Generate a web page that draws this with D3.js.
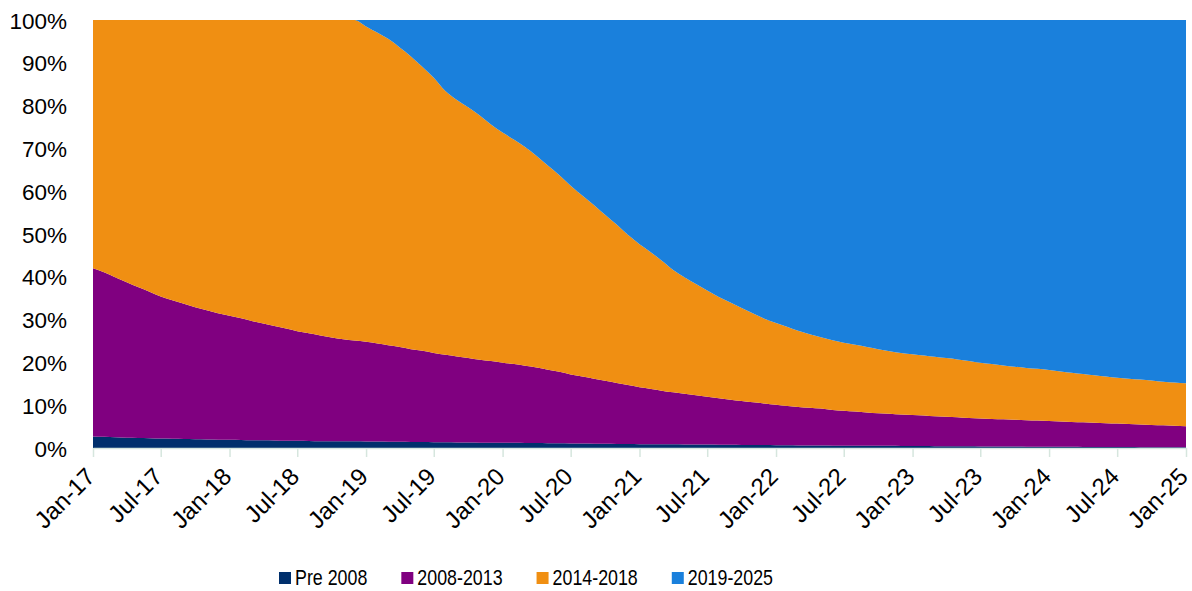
<!DOCTYPE html>
<html>
<head>
<meta charset="utf-8">
<script src="https://cdn.jsdelivr.net/npm/d3@7"></script>
<style>
  html, body { margin: 0; padding: 0; background: #ffffff; }
  svg { display: block; }
  .axis text, .legend text { font-family: "Liberation Sans", Arial, sans-serif; fill: #000; }
</style>
</head>
<body>
<svg id="chart" width="1192" height="591"></svg>
<script>
// Monthly share of the total by vintage, Jan-17 to Jan-25 (percent).
const seriesNames = ["Pre 2008", "2008-2013", "2014-2018", "2019-2025"];

const pre2008 = [
  2.7, 2.6, 2.5, 2.4, 2.35, 2.3, 2.2, 2.15, 2.1, 2.05, 2.0, 1.95, 1.9,
  1.85, 1.8, 1.8, 1.75, 1.7, 1.7, 1.65, 1.6, 1.6, 1.55, 1.55, 1.5,
  1.5, 1.45, 1.45, 1.4, 1.4, 1.35, 1.35, 1.3, 1.3, 1.25, 1.25, 1.2,
  1.2, 1.15, 1.15, 1.1, 1.1, 1.05, 1.05, 1.0, 1.0, 0.95, 0.95, 0.9,
  0.9, 0.85, 0.85, 0.8, 0.8, 0.8, 0.75, 0.75, 0.7, 0.7, 0.7, 0.65,
  0.65, 0.6, 0.6, 0.6, 0.55, 0.55, 0.55, 0.5, 0.5, 0.5, 0.45, 0.45,
  0.45, 0.4, 0.4, 0.4, 0.4, 0.35, 0.35, 0.35, 0.35, 0.3, 0.3, 0.3,
  0.3, 0.3, 0.25, 0.25, 0.25, 0.25, 0.25, 0.2, 0.2, 0.2, 0.2, 0.2
];

const y2008to2013 = [
  39.3, 38.4, 37.4, 36.3, 35.25, 34.2, 33.2, 32.35, 31.6, 30.85, 30.2, 29.55, 29.0,
  28.45, 27.9, 27.3, 26.75, 26.2, 25.6, 25.15, 24.7, 24.2, 23.85, 23.55, 23.3,
  22.9, 22.55, 22.15, 21.7, 21.3, 20.85, 20.45, 20.1, 19.7, 19.35, 19.05, 18.7,
  18.4, 18.05, 17.65, 17.2, 16.7, 16.15, 15.65, 15.2, 14.7, 14.25, 13.75, 13.3,
  12.9, 12.55, 12.15, 11.9, 11.5, 11.2, 10.85, 10.55, 10.3, 10.0, 9.7, 9.45,
  9.15, 9.0, 8.8, 8.6, 8.35, 8.15, 7.95, 7.8, 7.6, 7.5, 7.35, 7.25,
  7.15, 7.0, 6.9, 6.8, 6.6, 6.55, 6.45, 6.35, 6.25, 6.2, 6.1, 6.0,
  5.9, 5.8, 5.75, 5.65, 5.55, 5.45, 5.35, 5.3, 5.2, 5.1, 5.0, 4.9
];

const y2014to2018 = [
  58.0, 59.0, 60.1, 61.3, 62.4, 63.5, 64.6, 65.5, 66.3, 67.1, 67.8, 68.5, 69.1,
  69.7, 70.3, 70.9, 71.5, 72.1, 72.7, 73.2, 73.7, 74.2, 74.6, 74.9, 73.7,
  72.6, 71.6, 70.0, 68.4, 66.3, 64.3, 61.6, 59.9, 58.6, 57.1, 55.3, 53.8,
  52.4, 51.1, 49.4, 47.7, 45.9, 44.1, 42.3, 40.6, 38.8, 37.0, 35.1, 33.4,
  31.9, 30.4, 28.6, 27.2, 26.0, 24.8, 23.7, 22.7, 21.7, 20.7, 19.8, 19.1,
  18.5, 17.8, 17.2, 16.7, 16.3, 15.9, 15.6, 15.3, 15.0, 14.6, 14.4, 14.2,
  14.0, 13.9, 13.7, 13.5, 13.3, 13.0, 12.8, 12.6, 12.4, 12.2, 12.1, 11.9,
  11.7, 11.5, 11.3, 11.1, 10.9, 10.7, 10.6, 10.5, 10.4, 10.2, 10.1, 10.0
];

const y2019to2025 = [
  0, 0, 0, 0, 0, 0, 0, 0, 0, 0, 0, 0, 0,
  0, 0, 0, 0, 0, 0, 0, 0, 0, 0, 0, 1.5,
  3.0, 4.4, 6.4, 8.5, 11.0, 13.5, 16.6, 18.7, 20.4, 22.3, 24.4, 26.3,
  28.0, 29.7, 31.8, 34.0, 36.3, 38.7, 41.0, 43.2, 45.5, 47.8, 50.2, 52.4,
  54.3, 56.2, 58.4, 60.1, 61.7, 63.2, 64.7, 66.0, 67.3, 68.6, 69.8, 70.8,
  71.7, 72.6, 73.4, 74.1, 74.8, 75.4, 75.9, 76.4, 76.9, 77.4, 77.8, 78.1,
  78.4, 78.7, 79.0, 79.3, 79.7, 80.1, 80.4, 80.7, 81.0, 81.3, 81.5, 81.8,
  82.1, 82.4, 82.7, 83.0, 83.3, 83.6, 83.8, 84.0, 84.2, 84.5, 84.7, 84.9
];

const colors = ["#002f6c", "#800080", "#f08f12", "#1a80dc"];
const yTickValues = [0, 0.1, 0.2, 0.3, 0.4, 0.5, 0.6, 0.7, 0.8, 0.9, 1.0];

// One row per month
const months = d3.timeMonth.range(new Date(2017, 0, 1), new Date(2025, 0, 2));
const rows = months.map((date, i) => ({
  date,
  [seriesNames[0]]: pre2008[i],
  [seriesNames[1]]: y2008to2013[i],
  [seriesNames[2]]: y2014to2018[i],
  [seriesNames[3]]: y2019to2025[i]
}));

const svg = d3.select("#chart");
const plot = { left: 93, right: 1186, top: 20, bottom: 448 };

const x = d3.scaleTime()
  .domain([months[0], months[months.length - 1]])
  .range([plot.left, plot.right]);

const y = d3.scaleLinear()
  .domain([0, 1])
  .range([plot.bottom, plot.top]);

// Horizontal gridlines (only the 100% line stays visible above the areas)
svg.append("g")
  .selectAll("line")
  .data(yTickValues)
  .join("line")
  .attr("x1", plot.left)
  .attr("x2", plot.right)
  .attr("y1", d => Math.round(y(d)) + 0.5)
  .attr("y2", d => Math.round(y(d)) + 0.5)
  .attr("stroke", "#d9d9d9")
  .attr("stroke-width", 1);

// 100% stacked areas
const stack = d3.stack().keys(seriesNames).offset(d3.stackOffsetExpand);
const layers = stack(rows);

const area = d3.area()
  .curve(d3.curveMonotoneX)
  .x(d => x(d.data.date))
  .y0(d => y(d[0]))
  .y1(d => y(d[1]));

svg.append("g")
  .selectAll("path")
  .data(layers)
  .join("path")
  .attr("fill", (d, i) => colors[i])
  .attr("d", area);

// Y axis: labels only
const yAxis = svg.append("g")
  .attr("class", "axis")
  .attr("transform", `translate(${plot.left},0)`)
  .call(d3.axisLeft(y).tickValues(yTickValues).tickFormat(d3.format(".0%")).tickSize(0).tickPadding(26));
yAxis.select(".domain").remove();
yAxis.selectAll("text").attr("font-size", 22.5).attr("dy", "0.36em");

// X axis: half-yearly ticks, rotated labels
const xAxis = svg.append("g")
  .attr("class", "axis")
  .attr("transform", `translate(0,${plot.bottom})`)
  .call(d3.axisBottom(x)
    .ticks(d3.timeMonth.every(6))
    .tickFormat(d3.timeFormat("%b-%y"))
    .tickSize(9)
    .tickSizeOuter(0));
xAxis.select(".domain").attr("stroke", "#d6e6de").attr("stroke-width", 1.5);
xAxis.selectAll(".tick line").attr("stroke", "#d6e6de").attr("stroke-width", 1.5);
xAxis.selectAll("text")
  .attr("font-size", 24)
  .attr("x", 0).attr("y", 0).attr("dy", 0)
  .attr("text-anchor", "end")
  .attr("transform", "translate(3,30) rotate(-45)");

// Legend: condensed labels
const legend = svg.append("g").attr("class", "legend").attr("transform", "translate(279,0)");
let cursor = 0;
seriesNames.forEach((name, i) => {
  const item = legend.append("g").attr("transform", `translate(${cursor},0)`);
  item.append("rect")
    .attr("x", 0).attr("y", 572)
    .attr("width", 12).attr("height", 12)
    .attr("fill", colors[i]);
  const t = item.append("text")
    .attr("x", 16).attr("y", 585)
    .attr("font-size", 22)
    .text(name);
  const w = t.node().getComputedTextLength() * 0.81;
  t.attr("textLength", w).attr("lengthAdjust", "spacingAndGlyphs");
  cursor += 16 + w + 34;
});
</script>
</body>
</html>
